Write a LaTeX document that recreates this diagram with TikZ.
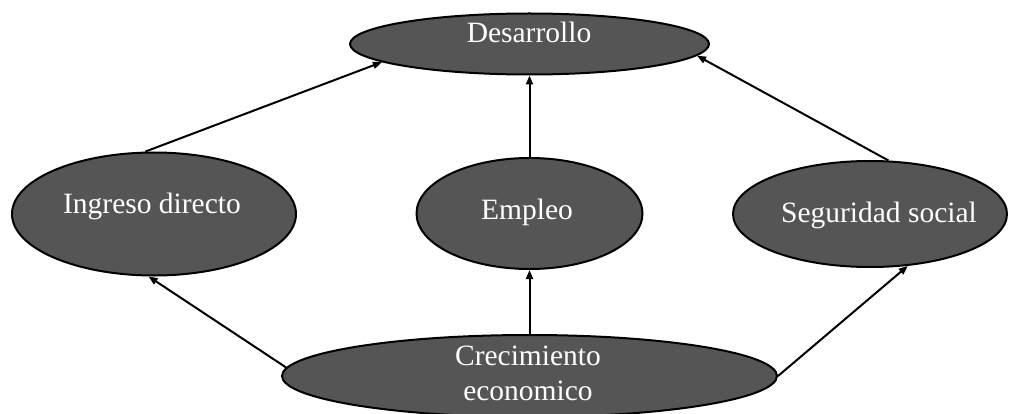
\documentclass[tikz,border=0pt]{standalone}
\usepackage{fontspec}
\setmainfont{Liberation Serif}
\usetikzlibrary{shapes.geometric,arrows.meta}
\definecolor{ovalgray}{RGB}{85,85,85}
\begin{document}
\begin{tikzpicture}[x=1pt,y=-1pt,
  oval/.style={ellipse, draw=black, line width=2pt, fill=ovalgray, inner sep=0pt},
  lbl/.style={text=white, font=\fontsize{29.5}{35}\selectfont, anchor=base, inner sep=0pt},
  conn/.style={line width=2pt, -{Triangle[length=9pt,width=7pt]}}]
\useasboundingbox (0,0) rectangle (1016,414);
\clip (0,0) rectangle (1016,414);
\node[oval, minimum width=359pt, minimum height=61pt] (des) at (529.5,44) {};
\node[oval, minimum width=284pt, minimum height=123pt] (ing) at (154,214) {};
\node[oval, minimum width=226pt, minimum height=111pt] (emp) at (529.5,213.5) {};
\node[oval, minimum width=274pt, minimum height=106pt] (seg) at (870,214) {};
\node[oval, minimum width=495pt, minimum height=82pt] (cre) at (529.5,376) {};
\node[lbl] (desT) at (529,43) {Desarrollo};
\node[lbl] (ingT) at (152,213) {Ingreso directo};
\node[lbl] (empT) at (527,219) {Empleo};
\node[lbl] (segT) at (879,222) {Seguridad social};
\node[lbl] (creT1) at (528,365) {Crecimiento};
\node[lbl] (creT2) at (528,400) {economico};
\draw[conn] (ing.98) -- (des.187);
\draw[conn] (emp.north) -- (des.south);
\draw[conn] (seg.71) -- (des.356);
\draw[conn] (cre.178) -- (ing.265);
\draw[conn] (cre.0) -- (seg.306);
\draw[conn] (cre.north) -- (emp.south);
\end{tikzpicture}
\end{document}
